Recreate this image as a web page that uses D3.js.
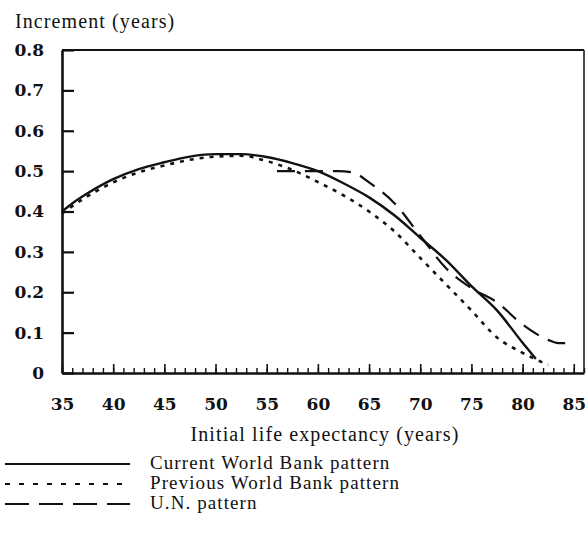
<!DOCTYPE html>
<html>
<head>
<meta charset="utf-8">
<script src="https://cdn.jsdelivr.net/npm/d3@7"></script>
<style>
  body { margin: 0; background: #fff; }
  text { font-family: "Liberation Serif", serif; fill: #111; }
</style>
</head>
<body>
<script>
// Datos
const currentX = [35, 36, 37.5, 40, 42.5, 45, 47.5, 50, 52.5, 55, 57.5, 60, 62.5, 65, 67.5, 70, 72.5, 75, 77.5, 80, 81.3];
const currentY = [0.40, 0.42, 0.445, 0.48, 0.505, 0.522, 0.536, 0.542, 0.542, 0.535, 0.52, 0.5, 0.47, 0.435, 0.39, 0.335, 0.28, 0.215, 0.155, 0.075, 0.035];

const previousX = [35, 37.5, 40, 42.5, 45, 47.5, 50, 52.5, 55, 57.5, 60, 62.5, 65, 67.5, 70, 72.5, 75, 77.5, 80, 82.5];
const previousY = [0.395, 0.438, 0.472, 0.497, 0.514, 0.528, 0.536, 0.538, 0.525, 0.503, 0.473, 0.44, 0.4, 0.35, 0.285, 0.22, 0.155, 0.088, 0.05, 0.02];

const unX = [56, 58, 60, 62, 63.5, 65, 67.5, 70, 72.5, 75, 77.5, 80, 82.5, 83.5, 85];
const unY = [0.5, 0.5, 0.5, 0.5, 0.496, 0.472, 0.42, 0.34, 0.26, 0.21, 0.175, 0.12, 0.082, 0.074, 0.074];

const yTicks = [0, 0.1, 0.2, 0.3, 0.4, 0.5, 0.6, 0.7, 0.8];
const xTicks = [35, 40, 45, 50, 55, 60, 65, 70, 75, 80, 85];
const legendLabels = ["Current World Bank pattern", "Previous World Bank pattern", "U.N. pattern"];

// Variables
const w = 586;
const h = 556;
const pLeft = 62, pRight = 584, pTop = 50, pBottom = 373;

const svg = d3.select("body")
              .append("svg")
              .attr("width", w)
              .attr("height", h);

svg.append("rect").attr("width", w).attr("height", h).attr("fill", "#fff");

// Escalas
const xScale = d3.scaleLinear().domain([35, 86]).range([pLeft, pRight]);
const yScale = d3.scaleLinear().domain([0, 0.8]).range([pBottom, pTop]);

// Marco
svg.append("line").attr("x1", pLeft).attr("x2", pRight).attr("y1", pTop).attr("y2", pTop)
    .attr("stroke", "#111").attr("stroke-width", 2.2);
svg.append("line").attr("x1", pRight).attr("x2", pRight).attr("y1", pTop).attr("y2", pBottom)
    .attr("stroke", "#111").attr("stroke-width", 1.5);

// Eje Y
const yAxis = d3.axisLeft(yScale)
                .tickValues(yTicks)
                .tickSize(-12)
                .tickSizeOuter(0)
                .tickPadding(18)
                .tickFormat(d => d === 0 ? "0" : d3.format(".1f")(d));
const gy = svg.append("g")
    .attr("transform", "translate(" + pLeft + ",0)")
    .call(yAxis);
gy.select(".domain").attr("stroke", "#111").attr("stroke-width", 2.6);
gy.selectAll(".tick line").attr("stroke", "#111").attr("stroke-width", 2.2);
gy.selectAll(".tick text")
    .attr("font-size", "17px").attr("font-weight", "bold")
    .style("font-family", "DejaVu Serif").attr("fill", "#111");

// Eje X: menores
const xMinor = d3.axisBottom(xScale)
                 .tickValues(d3.range(35, 87, 1))
                 .tickSize(-5)
                 .tickSizeOuter(0)
                 .tickFormat("");
const gxm = svg.append("g")
    .attr("transform", "translate(0," + pBottom + ")")
    .call(xMinor);
gxm.select(".domain").attr("stroke", "#111").attr("stroke-width", 2.6);
gxm.selectAll(".tick line").attr("stroke", "#111").attr("stroke-width", 1.4);

// Eje X: mayores
const xAxis = d3.axisBottom(xScale)
                .tickValues(xTicks)
                .tickSize(-9)
                .tickSizeOuter(0)
                .tickPadding(25);
const gx = svg.append("g")
    .attr("transform", "translate(0," + pBottom + ")")
    .call(xAxis);
gx.select(".domain").remove();
gx.selectAll(".tick line").attr("stroke", "#111").attr("stroke-width", 1.6);
gx.selectAll(".tick text")
    .attr("font-size", "17px").attr("font-weight", "bold")
    .style("font-family", "DejaVu Serif").attr("fill", "#111");

// Títulos
svg.append("text")
    .attr("x", 15).attr("y", 28)
    .attr("font-size", "20px")
    .attr("letter-spacing", "1.1px")
    .text("Increment (years)");

svg.append("text")
    .attr("x", (pLeft + pRight) / 2 + 2).attr("y", 441)
    .attr("text-anchor", "middle")
    .attr("font-size", "20px")
    .attr("letter-spacing", "1.1px")
    .text("Initial life expectancy (years)");

// Líneas
const line = d3.line()
               .x(d => xScale(d[0]))
               .y(d => yScale(d[1]))
               .curve(d3.curveMonotoneX);

const series = [
    { xs: currentX, ys: currentY, dash: null, width: 2.4 },
    { xs: previousX, ys: previousY, dash: "4,6", width: 2.6 },
    { xs: unX, ys: unY, dash: "18,10", width: 2.2 }
];

series.forEach(s => {
    svg.append("path")
        .datum(s.xs.map((x, i) => [x, s.ys[i]]))
        .attr("d", line)
        .attr("fill", "none")
        .attr("stroke", "#111")
        .attr("stroke-width", s.width)
        .attr("stroke-dasharray", s.dash);
});

// Leyenda
const legendY = [464, 484, 504];
const legendDash = [null, "5,9", "24,10"];
legendLabels.forEach((label, i) => {
    svg.append("line")
        .attr("x1", 5).attr("x2", 130)
        .attr("y1", legendY[i]).attr("y2", legendY[i])
        .attr("stroke", "#111")
        .attr("stroke-width", 2.2)
        .attr("stroke-dasharray", legendDash[i]);
    svg.append("text")
        .attr("x", 150).attr("y", legendY[i] + 5)
        .attr("font-size", "19px")
        .attr("letter-spacing", "1.1px")
        .text(label);
});
</script>
</body>
</html>
